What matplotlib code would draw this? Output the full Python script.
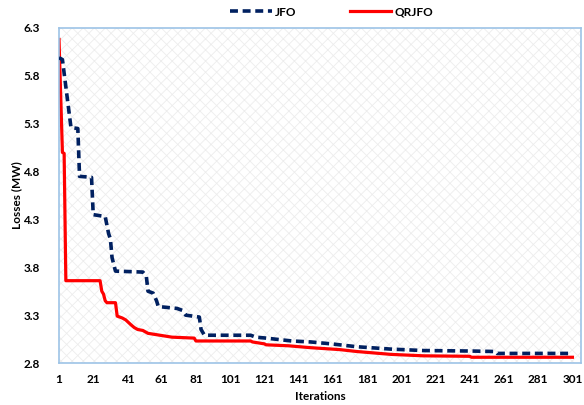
import matplotlib
matplotlib.use("Agg")
import matplotlib.pyplot as plt
from matplotlib.patches import Rectangle

plt.rcParams['font.family'] = ['Lato', 'DejaVu Sans']
plt.rcParams['hatch.linewidth'] = 0.6

# JFO convergence (iteration, loss in MW) vertices
jfo_iter = [1, 3, 8, 12, 13, 20, 21, 28, 30, 31, 32, 34, 50, 52, 53, 56, 58, 59,
            70, 73, 75, 83, 84, 86, 113, 116, 122, 137, 148, 160, 165, 175, 195,
            214, 242, 256, 257, 301]
jfo_loss = [5.99, 5.97, 5.26, 5.25, 4.75, 4.74, 4.35, 4.33, 4.15, 4.10, 3.90, 3.76,
            3.75, 3.71, 3.55, 3.53, 3.45, 3.39, 3.37, 3.35, 3.30, 3.28, 3.15, 3.09,
            3.09, 3.07, 3.06, 3.03, 3.02, 3.00, 2.99, 2.97, 2.945, 2.93, 2.925,
            2.92, 2.90, 2.90]

# QRJFO convergence
qr_iter = [1, 3, 4, 5, 25, 26, 27, 28, 29, 34, 35, 38, 40, 43, 45, 47, 50, 53, 60,
           67, 80, 81, 113, 114, 121, 122, 135, 148, 165, 175, 195, 214, 241, 242, 301]
qr_loss = [6.18, 5.00, 4.99, 3.66, 3.66, 3.55, 3.52, 3.45, 3.43, 3.43, 3.29, 3.27,
           3.25, 3.20, 3.17, 3.15, 3.14, 3.11, 3.09, 3.07, 3.06, 3.03, 3.03, 3.02,
           3.00, 2.99, 2.98, 2.96, 2.94, 2.92, 2.89, 2.875, 2.87, 2.86, 2.86]

x_ticks = list(range(1, 302, 20))
y_ticks = [2.8, 3.3, 3.8, 4.3, 4.8, 5.3, 5.8, 6.3]

fig = plt.figure(figsize=(5.84, 4.05), dpi=100)
ax = fig.add_axes([59 / 584, 1 - 363 / 405, (581 - 59) / 584, (363 - 28) / 405])

# hatched plot-area background
ax.add_patch(Rectangle((0, 0), 1, 1, transform=ax.transAxes, facecolor='white',
                       edgecolor='#ededed', hatch='xxx', linewidth=0, zorder=0))

ax.plot(jfo_iter, jfo_loss, color='#002060', lw=2.6, linestyle=(0, (2.2, 1.3)),
        label='JFO', zorder=3)
ax.plot(qr_iter, qr_loss, color='#ff0000', lw=2.3, label='QRJFO', zorder=2)

ax.set_xlim(1, 306)
ax.set_ylim(2.8, 6.3)
ax.set_xticks(x_ticks)
ax.set_yticks(y_ticks)
ax.set_yticklabels([f'{v:.1f}' for v in y_ticks])
ax.tick_params(length=0, labelsize=8.5)
ax.tick_params(axis='y', pad=14)
ax.tick_params(axis='x', pad=8)
for lab in ax.get_xticklabels() + ax.get_yticklabels():
    lab.set_fontweight('bold')
for s in ax.spines.values():
    s.set_color('#9dc3e6')
    s.set_linewidth(1.2)

ax.set_xlabel('Iterations', fontsize=8.5, fontweight='bold')
ax.xaxis.set_label_coords(0.5, -(396 - 363) / 335, transform=ax.transAxes)
ax.xaxis.label.set_va('center')
ax.set_ylabel('Losses (MW)', fontsize=8.5, fontweight='bold')
ax.yaxis.set_label_coords(-(59 - 17) / 522, 0.5, transform=ax.transAxes)
ax.yaxis.label.set_va('center')

fig.legend(loc='center', bbox_to_anchor=(332 / 584, 1 - 12 / 405), ncol=2,
           frameon=False, handlelength=3.5, columnspacing=4.5,
           handletextpad=0.3, prop={'weight': 'bold', 'size': 8.5})

fig.savefig('out.png', dpi=100)
